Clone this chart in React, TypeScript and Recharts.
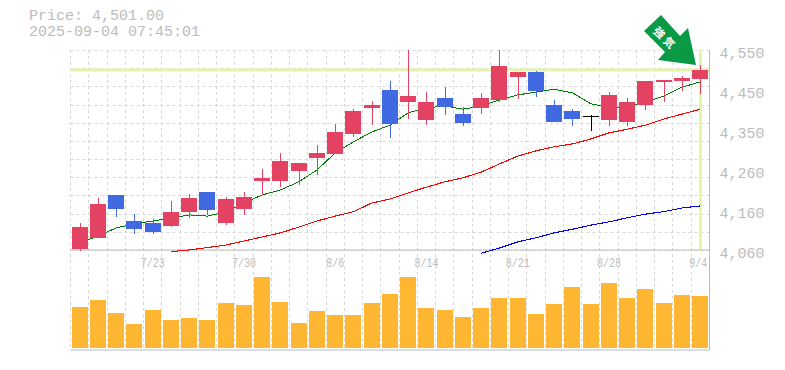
import { Bar, CartesianGrid, ComposedChart, Line, ReferenceLine, XAxis, YAxis } from "recharts";

const dates = [
  "7/16", "7/17", "7/18", "7/22", "7/23", "7/24", "7/25", "7/28", "7/29", "7/30", "7/31", "8/1",
  "8/4", "8/5", "8/6", "8/7", "8/8", "8/12", "8/13", "8/14", "8/15", "8/18", "8/19", "8/20",
  "8/21", "8/22", "8/25", "8/26", "8/27", "8/28", "8/29", "9/1", "9/2", "9/3", "9/4",
];
const opens = [
  4062, 4089, 4195, 4131, 4126, 4119, 4153, 4202, 4126, 4160, 4229, 4229, 4254, 4285, 4295, 4344, 4408, 4452,
  4423, 4379, 4432, 4393, 4408, 4428, 4484, 4496, 4415, 4401, 4388, 4379, 4374, 4415, 4472, 4474, 4479,
];
const highs = [
  4126, 4187, 4195, 4148, 4136, 4180, 4197, 4202, 4190, 4202, 4258, 4298, 4273, 4317, 4369, 4405, 4425, 4474,
  4550, 4447, 4459, 4410, 4445, 4550, 4496, 4499, 4428, 4405, 4391, 4447, 4432, 4474, 4477, 4486, 4513,
];
const lows = [
  4058, 4089, 4141, 4099, 4099, 4116, 4138, 4146, 4121, 4146, 4195, 4214, 4219, 4244, 4295, 4337, 4366, 4334,
  4381, 4366, 4391, 4364, 4393, 4423, 4430, 4435, 4374, 4364, 4352, 4364, 4364, 4403, 4423, 4450, 4442,
];
const closes = [
  4116, 4173, 4160, 4111, 4104, 4153, 4187, 4158, 4185, 4190, 4236, 4278, 4273, 4298, 4349, 4401, 4415, 4369,
  4437, 4423, 4410, 4371, 4432, 4511, 4496, 4450, 4374, 4381, 4388, 4440, 4423, 4474, 4477, 4481, 4501,
];
const maShort = [
  4077, 4094, 4114, 4124, 4131, 4138, 4146, 4143, 4153, 4175, 4195, 4207, 4227, 4256, 4298, 4325, 4349, 4366,
  4396, 4408, 4413, 4405, 4413, 4428, 4440, 4447, 4454, 4445, 4418, 4410, 4410, 4423, 4437, 4459, 4472,
];
const maMid = [
  null, null, null, null, null, 4056, 4060, 4066, 4072, 4082, 4092, 4102, 4116, 4131, 4143, 4154, 4175, 4185,
  4200, 4214, 4227, 4237, 4251, 4271, 4290, 4303, 4313, 4320, 4332, 4347, 4356, 4366, 4381, 4393, 4405,
];
const maLong = [
  null, null, null, null, null, null, null, null, null, null, null, null, null, null, null, null, null, null,
  null, null, null, null, 4052, 4065, 4080, 4090, 4102, 4111, 4121, 4129, 4139, 4148, 4154, 4163, 4168,
];
const volumes = [
  41, 48, 35, 24, 38, 28, 30, 28, 45, 43, 71, 46, 25, 37, 33, 33, 45, 54,
  71, 40, 38, 31, 40, 50, 50, 34, 44, 61, 44, 65, 50, 59, 45, 53, 52,
];
const priceTicks = [4550, 4452, 4354, 4256, 4158, 4060];
const dateTicks = ["7/23", "7/30", "8/6", "8/14", "8/21", "8/28", "9/4"];
const lastPrice = 4501;

const data = dates.map((date, i) => ({
  date,
  open: opens[i],
  high: highs[i],
  low: lows[i],
  close: closes[i],
  maShort: maShort[i],
  maMid: maMid[i],
  maLong: maLong[i],
  volume: volumes[i],
}));

const gray = "#bcbcbc";
const mono = "'Liberation Mono', monospace";

function Candle(props: any) {
  const { x, y, width, height, payload } = props;
  const { open, high, low, close } = payload;
  const k = height / (high - low);
  const top = y + (high - Math.max(open, close)) * k;
  const bodyH = Math.abs(open - close) * k;
  const color = close > open ? "#e34262" : close < open ? "#4169e1" : "#000000";
  const left = Math.round(x);
  const mid = left + Math.floor(width / 2) + 0.5;
  return (
    <g shapeRendering="crispEdges">
      <line x1={mid} x2={mid} y1={y} y2={y + height} stroke={color} />
      <rect x={left} y={top} width={width} height={Math.max(bodyH, 1)} fill={color} />
    </g>
  );
}

function DateTick(props: any) {
  const { x, y, payload } = props;
  const shift = payload.value === "9/4" ? -2 : 0;
  return (
    <text
      x={x + shift}
      y={y - 91}
      textAnchor="middle"
      fill={gray}
      fontFamily={mono}
      fontSize={13}
      textLength={payload.value.length * 6}
      lengthAdjust="spacingAndGlyphs"
    >
      {payload.value}
    </text>
  );
}

function Arrow() {
  return (
    <svg width={785} height={80} style={{ position: "absolute", left: 0, top: 0 }}>
      <polygon
        points="661,15 644,31 665,52 658,60 696,65 688,28 680,36"
        fill="#0a9a45"
      />
      <text
        transform="translate(666,38) rotate(45)"
        textAnchor="middle"
        dominantBaseline="central"
        fill="#ffffff"
        fontFamily="'Noto Sans CJK JP'"
        fontWeight={700}
        fontSize={11}
        letterSpacing={3}
      >
        強気
      </text>
    </svg>
  );
}

export default function App() {
  return (
    <div style={{ position: "absolute", left: 0, top: 0, width: 785, height: 370, background: "#fff" }}>
      <ComposedChart
        width={785}
        height={370}
        data={data}
        margin={{ top: 50, right: 0.5, bottom: 0, left: 70.5 }}
        barCategoryGap={0}
      >
        <CartesianGrid
          xAxisId="vol"
          yAxisId="price"
          stroke="#d8d8d8"
          strokeDasharray="3 3"
          horizontalCoordinatesGenerator={() =>
            priceTicks.length ? Array.from({ length: 12 }, (_, i) => Math.round(50 + (i * 200) / 11) + 0.5) : []
          }
          verticalCoordinatesGenerator={() =>
            Array.from({ length: 35 }, (_, i) => Math.round(70 + i * 18.257) + 0.5)
          }
        />
        <XAxis xAxisId="price" dataKey="date" hide height={0} />
        <XAxis
          xAxisId="vol"
          dataKey="date"
          ticks={dateTicks}
          interval={0}
          height={20}
          tickLine={false}
          axisLine={{ stroke: gray }}
          tick={<DateTick />}
        />
        <YAxis
          yAxisId="price"
          orientation="right"
          domain={[3815, 4550]}
          allowDataOverflow
          ticks={priceTicks}
          interval={0}
          width={75}
          tickLine={false}
          tickMargin={4}
          axisLine={{ stroke: gray }}
          tick={{ fill: gray, fontFamily: mono, fontSize: 15, dy: 3 }}
          tickFormatter={(v: number) => (Math.round(v / 10) * 10).toLocaleString("en-US")}
        />
        <YAxis yAxisId="vol" hide domain={[-2, 298]} allowDataOverflow />
        <ReferenceLine xAxisId="price" yAxisId="price" y={lastPrice} stroke="#e4f5a9" strokeWidth={3} />
        <ReferenceLine
          xAxisId="price"
          yAxisId="price"
          stroke="#e4f5a9"
          strokeWidth={3}
          segment={[
            { x: "9/4", y: 4550 },
            { x: "9/4", y: 4060 },
          ]}
        />
        <ReferenceLine xAxisId="price" yAxisId="price" y={4060} stroke={gray} />
        <Bar
          xAxisId="vol"
          yAxisId="vol"
          dataKey="volume"
          fill="#ffb733"
          barSize={16}
          isAnimationActive={false}
          shapeRendering="crispEdges"
        />
        <Line xAxisId="price" yAxisId="price" dataKey="maShort" stroke="#008000" strokeWidth={1} dot={false} isAnimationActive={false} shapeRendering="crispEdges" />
        <Line xAxisId="price" yAxisId="price" dataKey="maMid" stroke="#ff0000" strokeWidth={1.1} dot={false} isAnimationActive={false} shapeRendering="crispEdges" />
        <Line xAxisId="price" yAxisId="price" dataKey="maLong" stroke="#0000ff" strokeWidth={1.1} dot={false} isAnimationActive={false} shapeRendering="crispEdges" />
        <Bar
          xAxisId="price"
          yAxisId="price"
          dataKey={(d: any) => [d.low, d.high]}
          barSize={16}
          shape={<Candle />}
          zIndex={450}
          isAnimationActive={false}
        />
      </ComposedChart>
      <div
        style={{
          position: "absolute",
          left: 29,
          top: 9,
          color: gray,
          fontFamily: mono,
          fontSize: 15,
          lineHeight: "16px",
          whiteSpace: "pre",
        }}
      >
        {"Price: 4,501.00\n2025-09-04 07:45:01"}
      </div>
      <Arrow />
    </div>
  );
}
